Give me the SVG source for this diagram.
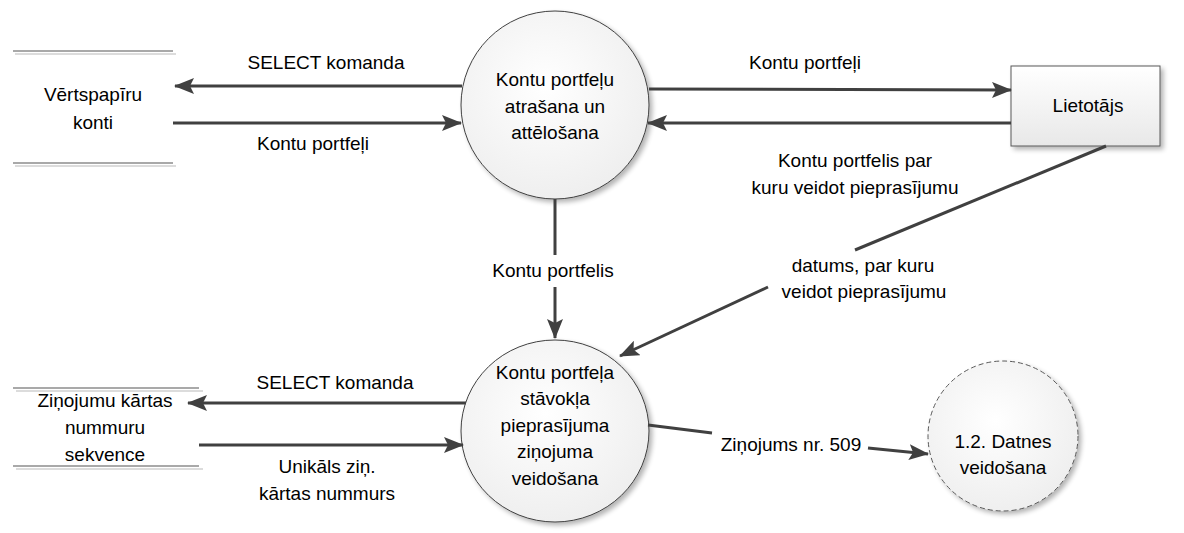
<svg xmlns="http://www.w3.org/2000/svg" width="1184" height="533" viewBox="0 0 1184 533">
<style>
text{font-family:"Liberation Sans",Arial,sans-serif;font-size:19px;fill:#000;text-anchor:middle}
.flow{stroke:#404040;stroke-width:3;fill:none}
.arr{marker-end:url(#ah)}
.proc{fill:url(#cg);stroke:#404040;stroke-width:1}
.ds1{stroke:#8c8c8c;stroke-width:1.5}
.ds2{stroke:#dcdcdc;stroke-width:2}
</style>
<defs>
<marker id="ah" markerUnits="userSpaceOnUse" markerWidth="20" markerHeight="16" refX="19" refY="8" orient="auto">
<path d="M0,0 L20,8 L0,16 L4,8 z" fill="#404040"/>
</marker>
<radialGradient id="cg" cx="0.45" cy="0.4" r="0.7">
<stop offset="0" stop-color="#ffffff"/>
<stop offset="1" stop-color="#ececec"/>
</radialGradient>
<linearGradient id="bg" x1="0" y1="0" x2="0" y2="1">
<stop offset="0" stop-color="#ffffff"/>
<stop offset="1" stop-color="#e8e8e8"/>
</linearGradient>
<filter id="sh" x="-20%" y="-20%" width="140%" height="140%">
<feGaussianBlur in="SourceAlpha" stdDeviation="2.5"/>
<feOffset dx="3" dy="3" result="b"/>
<feComponentTransfer><feFuncA type="linear" slope="0.3"/></feComponentTransfer>
<feMerge><feMergeNode/><feMergeNode in="SourceGraphic"/></feMerge>
</filter>
</defs>
<rect width="1184" height="533" fill="#fff"/>

<g id="store-vertspapiru">
<line class="ds1" x1="13" y1="51" x2="173" y2="51"/>
<line class="ds2" x1="15" y1="54" x2="176" y2="54"/>
<line class="ds1" x1="13" y1="163" x2="173" y2="163"/>
<line class="ds2" x1="15" y1="166" x2="176" y2="166"/>
<text x="93" y="101">Vērtspapīru</text>
<text x="93" y="129">konti</text>
</g>

<g id="store-zinojumu">
<line class="ds1" x1="13" y1="388" x2="199" y2="388"/>
<line class="ds2" x1="16" y1="391" x2="203" y2="391"/>
<line class="ds1" x1="13" y1="466" x2="199" y2="466"/>
<line class="ds2" x1="16" y1="469" x2="203" y2="469"/>
<text x="105" y="407">Ziņojumu kārtas</text>
<text x="105" y="434">nummuru</text>
<text x="105" y="461">sekvence</text>
</g>

<g id="proc-1">
<circle class="proc" cx="555" cy="105" r="94" filter="url(#sh)"/>
<text x="555" y="86">Kontu portfeļu</text>
<text x="555" y="113">atrašana un</text>
<text x="555" y="139">attēlošana</text>
</g>

<g id="proc-2">
<ellipse class="proc" cx="555" cy="431" rx="94" ry="91" filter="url(#sh)"/>
<text x="555" y="379">Kontu portfeļa</text>
<text x="555" y="405">stāvokļa</text>
<text x="555" y="432">pieprasījuma</text>
<text x="555" y="458">ziņojuma</text>
<text x="555" y="485">veidošana</text>
</g>

<g id="proc-3">
<circle cx="1003" cy="436" r="75" fill="url(#cg)" stroke="#595959" stroke-width="1" stroke-dasharray="5,3" filter="url(#sh)"/>
<text x="1003" y="448">1.2. Datnes</text>
<text x="1003" y="474">veidošana</text>
</g>

<g id="entity-lietotajs">
<rect x="1011" y="66" width="149" height="80" fill="url(#bg)" stroke="#595959" stroke-width="1" filter="url(#sh)"/>
<text x="1088" y="112">Lietotājs</text>
</g>

<g id="connectors">
<line class="flow arr" x1="462" y1="86" x2="175" y2="86"/>
<line class="flow arr" x1="173" y1="123" x2="461" y2="123"/>
<line class="flow arr" x1="649" y1="89" x2="1011" y2="90"/>
<line class="flow arr" x1="1011" y1="123" x2="648" y2="123"/>
<line class="flow" x1="555" y1="199" x2="555" y2="255"/>
<line class="flow arr" x1="555" y1="287" x2="555" y2="338"/>
<line class="flow" x1="1106" y1="146" x2="855" y2="250"/>
<line class="flow arr" x1="768" y1="287" x2="620" y2="356"/>
<line class="flow arr" x1="466" y1="403" x2="188" y2="403"/>
<line class="flow arr" x1="199" y1="445" x2="463" y2="445"/>
<line class="flow" x1="648" y1="425" x2="712" y2="433"/>
<line class="flow arr" x1="868" y1="448" x2="928" y2="454"/>
<text x="326" y="69">SELECT komanda</text>
<text x="313" y="150">Kontu portfeļi</text>
<text x="805" y="69">Kontu portfeļi</text>
<text x="855" y="167">Kontu portfelis par</text>
<text x="855" y="194">kuru veidot pieprasījumu</text>
<text x="553" y="277">Kontu portfelis</text>
<text x="863" y="272">datums, par kuru</text>
<text x="864" y="298">veidot pieprasījumu</text>
<text x="335" y="389">SELECT komanda</text>
<text x="327" y="473">Unikāls ziņ.</text>
<text x="327" y="500">kārtas nummurs</text>
<text x="791" y="451">Ziņojums nr. 509</text>
</g>
</svg>
